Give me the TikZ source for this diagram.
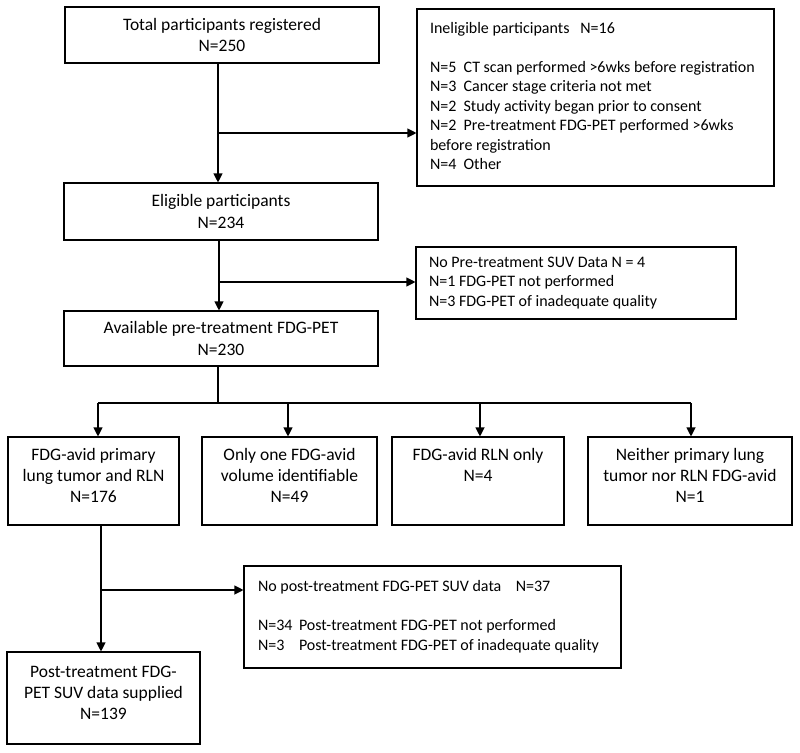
\documentclass[tikz,border=0pt]{standalone}
\usepackage{fontspec}
\setmainfont{Carlito}
\usetikzlibrary{arrows.meta}
\newcommand{\toptext}[4]{\parbox[c][#1][t]{#2}{\centering\rule{0pt}{#3}#4}}
\newcommand{\lefttext}[2]{\makebox[#1][l]{\begin{tabular}{@{}l@{}}#2\end{tabular}}}
\begin{document}
\begin{tikzpicture}[x=1pt,y=-1pt,
  box/.style={draw, line width=1.1pt, inner sep=0pt, font=\fontsize{17.5}{21.4}\selectfont, align=center},
  rowbox/.style={draw, line width=1.1pt, inner sep=0pt, font=\fontsize{17.5}{21.2}\selectfont},
  sidebox/.style={draw, line width=1.1pt, inner ysep=0pt, font=\fontsize{16}{19.5}\selectfont},
  arr/.style={line width=1.1pt, -{Triangle[length=9pt,width=9pt]}},
  ln/.style={line width=1.1pt}]
\useasboundingbox (0,0) rectangle (800,752);

% main column
\node[box, minimum width=314pt, minimum height=56pt] (tot) at (222,35) {Total participants registered\\N=250};
\node[box, minimum width=314pt, minimum height=57pt] (eli) at (221,211.5) {Eligible participants\\N=234};
\node[box, minimum width=314pt, minimum height=55pt] (ava) at (221,338.5) {Available pre-treatment FDG-PET\\N=230};

% side boxes
\node[sidebox, inner xsep=13pt, minimum height=177pt] (ine) at (595.5,97.5)
 {\lefttext{331pt}{Ineligible participants\ \ \ N=16\\
  \\
  N=5\ \ CT scan performed >6wks before registration\\
  N=3\ \ Cancer stage criteria not met\\
  N=2\ \ Study activity began prior to consent\\
  N=2\ \ Pre-treatment FDG-PET performed >6wks\\
  before registration\\
  N=4\ \ Other}};
\node[sidebox, inner xsep=13pt, minimum height=72pt] (nop) at (576,283)
 {\lefttext{294pt}{No Pre-treatment SUV Data N = 4\\
  N=1 FDG-PET not performed\\
  N=3 FDG-PET of inadequate quality}};
\node[sidebox, inner xsep=14pt, minimum height=102pt] (pst) at (432.5,617)
 {\lefttext{349pt}{No post-treatment FDG-PET SUV data\ \ \ \ N=37\\
  \\[0.5pt]
  \makebox[41pt][l]{N=34}Post-treatment FDG-PET not performed\\
  \makebox[41pt][l]{N=3}Post-treatment FDG-PET of inadequate quality}};

% row of four
\node[rowbox] (ba) at (93.5,481) {\toptext{88pt}{171pt}{23.5pt}{FDG-avid primary\\lung tumor and RLN\\N=176}};
\node[rowbox] (bb) at (289.5,481) {\toptext{88pt}{175pt}{23.5pt}{Only one FDG-avid\\volume identifiable\\N=49}};
\node[rowbox] (bc) at (478,481) {\toptext{88pt}{172pt}{23.5pt}{FDG-avid RLN only\\N=4}};
\node[rowbox] (bd) at (690,481) {\toptext{88pt}{204pt}{23.5pt}{Neither primary lung\\tumor nor RLN FDG-avid\\N=1}};

% final
\node[rowbox] (fin) at (103.5,698) {\toptext{92pt}{193pt}{25.5pt}{Post-treatment FDG-\\PET SUV data supplied\\N=139}};

% connectors
\draw[arr] ([xshift=-4pt]tot.south) -- ([xshift=-4pt]tot.south |- eli.north);
\coordinate (j1) at (218,133);
\draw[arr] (j1) -- (j1 -| ine.west);
\draw[arr] ([xshift=-2pt]eli.south) -- ([xshift=-2pt]eli.south |- ava.north);
\coordinate (j2) at (219,282);
\draw[arr] (j2) -- (j2 -| nop.west);

\coordinate (hm) at (218,403);
\coordinate (hl) at (98,403);
\coordinate (hb) at (288,403);
\coordinate (hc) at (480,403);
\coordinate (hr) at (691,403);
\draw[ln] (ava.south -| hm) -- (hm);
\draw[ln] (hl) -- (hr);
\draw[arr] (hl) -- (hl |- ba.north);
\draw[arr] (hb) -- (hb |- bb.north);
\draw[arr] (hc) -- (hc |- bc.north);
\draw[arr] (hr) -- (hr |- bd.north);

\draw[arr] ([xshift=7.5pt]ba.south) -- ([xshift=7.5pt]ba.south |- fin.north);
\coordinate (j3) at (101,590);
\draw[arr] (j3) -- (j3 -| pst.west);
\end{tikzpicture}
\end{document}
